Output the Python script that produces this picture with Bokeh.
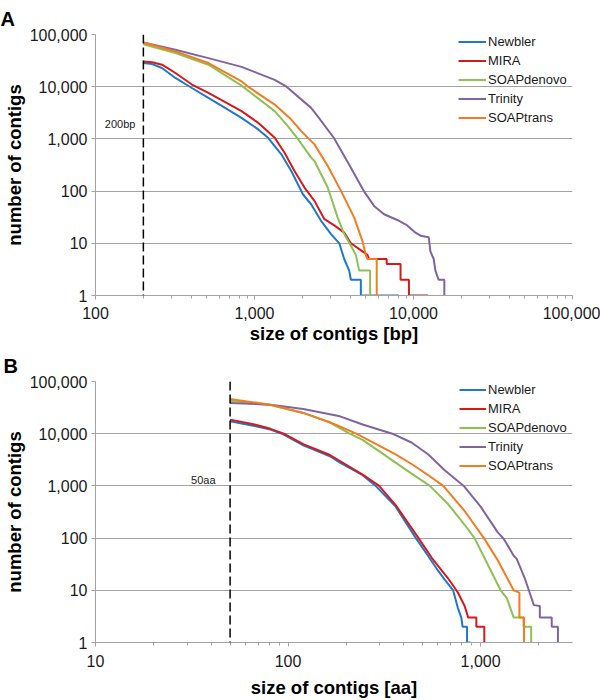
from bokeh.plotting import figure
from bokeh.layouts import column
from bokeh.models import (Range1d, FixedTicker, NumeralTickFormatter, Span, Label,
                          Legend, LegendItem, Title)
from bokeh.embed import file_html
from bokeh.resources import INLINE

# ---------------- data ----------------
assemblers = ["Newbler", "MIRA", "SOAPdenovo", "Trinity", "SOAPtrans"]
colors = ["#1f78c8", "#d7191c", "#8dc155", "#8064a2", "#f47c20"]

# Panel A: number of contigs >= size (bp)
newbler_bp_x = [200, 227, 262, 318, 404, 513, 653, 829, 1055, 1217, 1475, 1703, 1875, 2015,
                2270, 2622, 3030, 3413, 3667, 3942, 4038, 4664, 4664, 8100]
newbler_bp_y = [28400, 27100, 22800, 14700, 9440, 6080, 3930, 2530, 1520, 1050, 506, 243, 135, 87,
                56, 27, 15, 10, 5, 3, 2, 2, 1, 1]
mira_bp_x = [200, 227, 262, 318, 404, 513, 829, 1055, 1340, 1546, 1785, 2062, 2383, 2752, 3177,
             3667, 4038, 4776, 5134, 5258, 6780, 6780, 8290, 8290, 9360, 9360, 12360]
mira_bp_y = [30500, 29500, 26400, 18300, 11000, 7590, 3400, 2030, 1050, 543, 243, 117, 65, 29, 22,
             16, 10, 7, 6, 5, 5, 4, 4, 2, 2, 1, 1]
soapdenovo_bp_x = [200, 318, 513, 829, 1340, 1620, 1875, 2270, 2383, 2889, 3335, 3667, 4038, 4343,
                   4552, 5335, 5335]
soapdenovo_bp_y = [65300, 44100, 26400, 10500, 3400, 1750, 1000, 437, 377, 117, 31, 15, 9, 6,
                   3, 3, 1]
trinity_bp_x = [200, 318, 513, 829, 1340, 1590, 2270, 2500, 3160, 4040, 4870, 5649, 6527, 7910,
                9130, 10300, 11070, 12470, 12770, 13400, 13730, 14390, 15630, 15630]
trinity_bp_y = [70000, 51000, 35300, 24000, 13500, 10000, 3930, 2700, 1040, 280, 100, 52, 36, 28,
                22, 16, 14, 13, 7, 5, 3, 2, 2, 1]
soaptrans_bp_x = [200, 318, 513, 829, 910, 1340, 1703, 1967, 2200, 2383, 2889, 3497, 4237, 4776,
                  5012, 5134, 5870, 5870]
soaptrans_bp_y = [70300, 47400, 28400, 12700, 10000, 4550, 2350, 1410, 1000, 785, 303, 101, 31, 11,
                  6, 5, 5, 1]

# Panel B: number of contigs >= size (aa)
newbler_aa_x = [50, 67, 81, 93, 120, 165, 186, 244, 285, 362, 461, 535, 600, 651, 720, 763, 794,
                806, 850, 850, 885]
newbler_aa_y = [17300, 14000, 12000, 10000, 6000, 3700, 2800, 1600, 1000, 400, 100, 45, 24, 16, 10,
                4.5, 3, 2, 2, 1, 1]
mira_aa_x = [50, 67, 81, 95, 120, 165, 186, 244, 297, 362, 476, 557, 677, 748, 763, 826, 862, 950,
             950, 1045, 1045]
mira_aa_y = [18600, 15000, 12400, 10000, 6300, 3900, 3000, 1650, 1000, 430, 100, 42, 17, 10, 9, 5,
             3, 3, 2, 2, 1]
soapdenovo_aa_x = [50, 81, 120, 165, 209, 244, 362, 440, 545, 677, 826, 930, 1270, 1370, 1485,
                   1670, 1670, 1830, 1830]
soapdenovo_aa_y = [42900, 35500, 25000, 16300, 10000, 7600, 2800, 1700, 1000, 450, 180, 100, 10, 7,
                   3, 3, 2, 2, 1]
trinity_aa_x = [50, 81, 120, 186, 244, 348, 440, 535, 651, 817, 1000, 1225, 1320, 1485, 1540, 1700,
                1780, 1890, 2030, 2030, 2340, 2340, 2520, 2520]
trinity_aa_y = [38700, 36000, 29800, 21500, 15000, 10000, 6700, 4000, 2000, 1000, 400, 130, 96, 46,
                40, 16.5, 10, 5.2, 5, 3, 3, 2, 2, 1]
soaptrans_aa_x = [50, 81, 120, 165, 226, 362, 440, 535, 640, 826, 1040, 1225, 1485, 1590, 1590,
                  1680, 1680]
soaptrans_aa_y = [46200, 36000, 25000, 16600, 10000, 4000, 2600, 1600, 1000, 330, 100, 38, 10, 9,
                  3, 3, 1]

bp_series = [(newbler_bp_x, newbler_bp_y), (mira_bp_x, mira_bp_y),
             (soapdenovo_bp_x, soapdenovo_bp_y), (trinity_bp_x, trinity_bp_y),
             (soaptrans_bp_x, soaptrans_bp_y)]
aa_series = [(newbler_aa_x, newbler_aa_y), (mira_aa_x, mira_aa_y),
             (soapdenovo_aa_x, soapdenovo_aa_y), (trinity_aa_x, trinity_aa_y),
             (soaptrans_aa_x, soaptrans_aa_y)]

y_ticks = [1, 10, 100, 1000, 10000, 100000]
bp_ticks = [100, 1000, 10000, 100000]
aa_ticks = [10, 100, 1000]
bp_cutoff = 200
aa_cutoff = 50

FONT = "Liberation Sans"
GRID = "#a3a3a3"
TXT = "#1a1a1a"


def panel(series, x_lo, x_hi, x_major, cutoff, cutoff_text, letter, x_title,
          height, borders, label_standoff, title_standoff, cut_y, cut_dx,
          letter_offset, ytitle_offset, legend_loc, glyph_w):
    bl, br, bt, bb = borders
    p = figure(width=600, height=height, x_axis_type="log", y_axis_type="log",
               x_range=Range1d(x_lo, x_hi), y_range=Range1d(1, 100000),
               output_backend="svg", toolbar_location=None,
               min_border_left=bl, min_border_right=br, min_border_top=bt,
               min_border_bottom=bb)
    p.outline_line_color = None
    p.background_fill_color = "white"
    p.border_fill_color = "white"
    p.xgrid.visible = False
    p.ygrid.grid_line_color = GRID
    p.ygrid.grid_line_width = 1

    # panel letter (A / B) as the plot title
    p.title.text = letter
    p.title.align = "left"
    p.title.offset = letter_offset
    p.title.standoff = 10
    p.title.text_font = FONT
    p.title.text_font_size = "20px"
    p.title.text_font_style = "bold"
    p.title.text_color = "black"

    minors = [m * t for t in x_major for m in range(2, 10) if m * t < x_hi]
    p.xaxis.ticker = FixedTicker(ticks=x_major, minor_ticks=minors)
    p.yaxis.ticker = FixedTicker(ticks=y_ticks, minor_ticks=[])
    for ax in (p.xaxis[0], p.yaxis[0]):
        ax.formatter = NumeralTickFormatter(format="0,0")
        ax.axis_line_color = GRID
        ax.major_tick_line_color = GRID
        ax.minor_tick_line_color = GRID
        ax.major_tick_out = 4
        ax.major_tick_in = 0
        ax.minor_tick_out = 3
        ax.minor_tick_in = 0
        ax.major_label_text_font = FONT
        ax.major_label_text_font_size = "16px"
        ax.major_label_text_color = TXT
    p.yaxis.minor_tick_line_color = None
    p.yaxis.major_label_standoff = 4
    p.xaxis.major_label_standoff = label_standoff
    p.xaxis.axis_label = x_title
    p.xaxis.axis_label_standoff = title_standoff
    p.xaxis.axis_label_text_font = FONT
    p.xaxis.axis_label_text_font_size = "18.5px"
    p.xaxis.axis_label_text_font_style = "bold"
    p.xaxis.axis_label_text_color = "black"

    # y-axis title, placed a little above the frame centre as in the reference
    p.add_layout(Title(text="number of contigs", align="center", offset=ytitle_offset,
                       standoff=3, text_font=FONT, text_font_size="18.5px",
                       text_font_style="bold", text_color="black"), "left")

    p.add_layout(Span(location=cutoff, dimension="height", line_color="black",
                      line_dash="9 4", line_width=1.5))

    items = []
    for (xs, ys), name, col in zip(series, assemblers, colors):
        r = p.line(xs, ys, line_color=col, line_width=2)
        items.append(LegendItem(label=name, renderers=[r]))

    legend = Legend(items=items, location=legend_loc, orientation="vertical",
                    background_fill_alpha=0, border_line_color=None, padding=0,
                    margin=0, spacing=0, glyph_width=glyph_w, glyph_height=19,
                    label_height=19, label_standoff=2,
                    label_text_font=FONT, label_text_font_size="13px",
                    label_text_color=TXT)
    p.add_layout(legend)

    p.add_layout(Label(x=cutoff, y=cut_y, text=cutoff_text, x_offset=cut_dx,
                       text_align="right", text_baseline="alphabetic",
                       text_font=FONT, text_font_size="11px", text_color=TXT))
    return p


pA = panel(bp_series, 100, 100000, bp_ticks, bp_cutoff, "200bp", "A",
           "size of contigs [bp]", 346, (93, 28, 33, 51), 7, 1, 1900, -8,
           -95, 25, (363, 168), 28)
pB = panel(aa_series, 10, 3000, aa_ticks, aa_cutoff, "50aa", "B",
           "size of contigs [aa]", 354, (92, 24, 35, 58), 8, 7, 1300, -14.5,
           -92, 32, (364, 167), 27)

layout = column(pA, pB)

open("out.html", "w").write(file_html(layout, INLINE))
